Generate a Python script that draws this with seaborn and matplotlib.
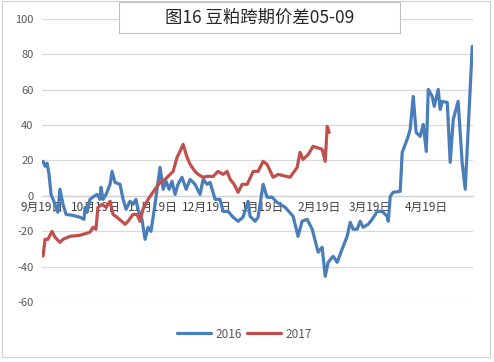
import matplotlib
matplotlib.use("Agg")
import matplotlib.pyplot as plt
import seaborn as sns
import pandas as pd
from matplotlib.patches import Rectangle

# days since 9月19日, values of spread
days_2016 = [0.6, 1.7, 2.8, 3.9, 5.0, 7.2, 8.8, 9.9, 11.6, 13.3, 16.6, 21.0, 23.2, 23.8, 24.9,
             26.5, 28.7, 30.4, 32.0, 32.6, 33.7, 35.4, 37.6, 38.7, 40.3, 43.1, 44.8, 46.4, 48.6,
             50.3, 51.9, 53.0, 55.2, 56.9, 58.6, 60.2, 62.4, 65.2, 66.9, 68.5, 70.2, 71.8, 73.5,
             75.1, 77.3, 79.6, 81.8, 84.5, 87.3, 89.0, 91.2, 92.8, 95.6, 98.3, 100.0, 102.8,
             105.5, 108.3, 111.0, 113.8, 114.9, 117.7, 119.3, 122.1, 124.3, 127.1, 129.8, 134.3,
             138.7, 141.4, 143.6, 146.4, 149.2, 152.5, 154.7, 156.4, 158.0, 160.8, 163.0, 165.7,
             168.5, 170.2, 171.8, 174.0, 175.7, 177.3, 180.1, 182.3, 185.1, 187.8, 190.6, 191.2,
             192.3, 193.9, 197.8, 198.9, 200.6, 202.2, 203.3, 205.0, 206.6, 208.8, 210.5, 212.2,
             213.3, 215.5, 216.6, 218.8, 219.9, 221.0, 223.8, 225.4, 227.1, 229.8, 232.0, 233.7,
             237.6]
vals_2016 = [19.5, 16.7, 18.4, 12.1, 0.8, -4.8, -9.3, 3.7, -4.8, -10.5, -11.0, -12.1, -13.3, -6.5,
             -9.3, -2.0, -0.3, 0.8, -2.0, 4.8, -2.0, 0.8, 6.5, 13.8, 7.6, 6.5, -2.0, -7.6, -3.1,
             -4.8, -2.0, -7.6, -13.3, -24.6, -17.8, -20.1, -4.8, 16.1, 3.7, 8.2, 3.7, 8.2, 0.8,
             6.5, 10.5, 3.7, 9.3, 6.5, 0.8, 9.3, 6.5, 7.6, -2.0, -2.0, -8.8, -8.8,
             -12.1, -14.4, -12.1, -3.1, -11.6, -14.4, -12.1, 6.5, -0.8, -0.8, -3.7, -6.5,
             -11.6, -22.9, -14.4, -13.3, -18.9, -31.9, -29.1, -45.5, -37.6, -34.2, -37.6, -30.2,
             -22.9, -15.0, -18.9, -18.9, -14.4, -17.8, -16.1, -13.3, -8.8, -8.8, -11.6, -14.4,
             -0.3, 2.0, 2.5, 24.6, 29.1, 33.6, 37.6, 56.2, 35.9, 33.6, 40.4, 25.1,
             60.2, 56.2, 50.6, 60.2, 48.9, 53.4, 52.8, 18.9, 43.2, 53.4, 18.9, 3.7,
             84.5]

days_2017 = [0.6, 1.7, 3.3, 5.5, 7.2, 9.9, 11.6, 15.5, 21.0, 26.5, 28.2, 29.8, 30.9, 33.1, 35.4,
             37.6, 39.2, 41.4, 45.9, 47.5, 50.3, 52.5, 54.1, 55.8, 58.6, 62.4, 65.2, 68.0, 70.7,
             72.4, 74.6, 76.2, 77.9, 80.1, 81.8, 84.5, 86.2, 89.0, 91.2, 94.5, 97.2, 100.0, 102.2,
             103.9, 106.1, 108.3, 110.5, 113.3, 116.6, 119.3, 122.1, 124.3, 127.6, 130.4, 137.0,
             140.9, 142.5, 144.2, 147.0, 149.7, 154.7, 156.4, 157.5, 158.6]
vals_2017 = [-34.0, -24.6, -24.6, -20.1, -23.4, -26.3, -24.6, -22.9, -22.3, -20.6, -17.8, -18.9,
             -6.5, -4.8, -6.5, -3.1, -10.5, -12.1, -16.1, -14.4, -10.5, -10.5, -14.4, -7.6, -2.0,
             3.7, 7.6, 9.3, 12.1, 13.8, 21.8, 25.1, 29.1, 21.8, 17.8, 13.8, 12.1, 10.5, 11.0,
             11.0, 13.8, 12.1, 13.8, 9.3, 6.5, 2.0, 6.5, 6.5, 13.8, 13.8, 19.5, 17.8, 10.5, 12.1,
             10.5, 16.1, 24.6, 20.6, 23.4, 28.0, 26.3, 19.5, 39.3, 35.9]

tick_days = [0, 30, 61, 91, 122, 153, 181, 212]
tick_labels = ["9月19日", "10月19日", "11月19日", "12月19日", "1月19日", "2月19日", "3月19日", "4月19日"]
series_names = ["2016", "2017"]
title = "图16 豆粕跨期价差05-09"

df = pd.concat([
    pd.DataFrame({"day": days_2016, "value": vals_2016, "year": series_names[0]}),
    pd.DataFrame({"day": days_2017, "value": vals_2017, "year": series_names[1]}),
])

sns.set_theme(style="white")
plt.rcParams['font.family'] = ['Noto Sans CJK SC', 'DejaVu Sans']

fig = plt.figure(figsize=(4.94, 3.62), dpi=100)
ax = fig.add_axes([0.085, 0.166, 0.8725, 0.7815])

palette = {"2016": "#4a7ebb", "2017": "#c0504d"}
sns.lineplot(data=df, x="day", y="value", hue="year", palette=palette, estimator=None,
             sort=False, linewidth=2.3, ax=ax, legend=False, zorder=3)

ax.set_xlim(0, 238)
ax.set_ylim(-60, 100)
ax.set_yticks(range(-60, 101, 20))
ax.set_yticklabels([str(v) for v in range(-60, 101, 20)])
ax.yaxis.grid(True, color="#d9d9d9", linewidth=0.9)
ax.set_axisbelow(True)
for s in ["left", "right", "top"]:
    ax.spines[s].set_visible(False)
ax.spines["bottom"].set_position(("data", 0))
ax.spines["bottom"].set_color("#d0d0d0")
ax.spines["bottom"].set_linewidth(0.9)
ax.set_xticks(tick_days)
ax.set_xticklabels(tick_labels)
ax.tick_params(axis="x", length=4, direction="inout", color="#d0d0d0", labelsize=8.5,
               labelcolor="#404040", pad=2)
ax.tick_params(axis="y", length=0, labelsize=8, labelcolor="#595959", pad=6)
ax.set_xlabel("")
ax.set_ylabel("")

# legend
handles = [plt.Line2D([], [], color=palette[n], linewidth=2.3) for n in series_names]
fig.legend(handles, series_names, loc="center", bbox_to_anchor=(0.495, 0.077), ncol=2,
           frameon=False, handlelength=2.9, columnspacing=0.4, handletextpad=0.4,
           prop={"size": 8.5}, labelcolor="#595959")

# title box
fig.add_artist(Rectangle((119 / 494, 1 - 33 / 362), 281 / 494, 31 / 362,
                         transform=fig.transFigure, facecolor="white",
                         edgecolor="#bfbfbf", linewidth=0.8, zorder=5))
fig.text(260 / 494, 1 - 18 / 362, title, ha="center", va="center", fontsize=12.5,
         color="#262626", zorder=6)

# chart border
fig.add_artist(Rectangle((2 / 494, 1 - 357 / 362), 488 / 494, 356 / 362,
                         transform=fig.transFigure, facecolor="none",
                         edgecolor="#d0d0d0", linewidth=0.8))

fig.savefig("out.png", dpi=100)
